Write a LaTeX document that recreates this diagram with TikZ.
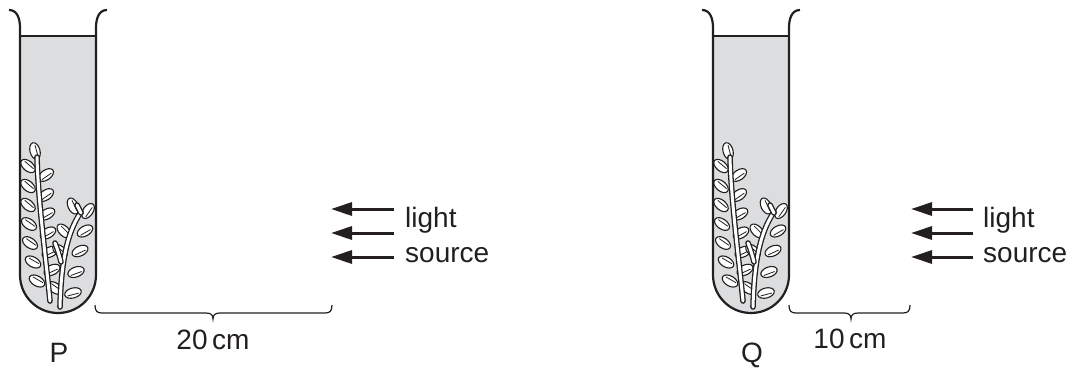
\documentclass[tikz,border=0pt]{standalone}
\usepackage{fontspec}
\setmainfont{Liberation Sans}
\usetikzlibrary{arrows.meta}
\definecolor{liquid}{RGB}{220,221,222}
\definecolor{ink}{RGB}{35,31,32}
\newcommand\plantleaf[3]{%
  \draw[leafstyle,rotate around={#3:(#1,#2)}] (#1,#2) ellipse [x radius=8.5,y radius=5];
  \draw[ribstyle,rotate around={#3:(#1,#2)}] (#1-6,#2+1.5) -- (#1+5.5,#2+1.5);}
\newcommand\tubeplant{%
  % leaves of main stem
  \plantleaf{35}{151}{105}
  \plantleaf{28}{166}{140}
  \plantleaf{46}{175}{35}
  \plantleaf{28}{186}{140}
  \plantleaf{46}{195}{35}
  \plantleaf{28}{205}{140}
  \plantleaf{47}{214}{30}
  \plantleaf{29}{224}{145}
  \plantleaf{48}{233}{30}
  \plantleaf{30}{243}{145}
  \plantleaf{50}{252}{25}
  \plantleaf{33}{262}{150}
  \plantleaf{52}{270}{25}
  \plantleaf{37}{281}{150}
  % leaves of second stem
  \plantleaf{73}{206}{115}
  \plantleaf{88}{211}{55}
  \plantleaf{85}{231}{30}
  \plantleaf{64}{231}{135}
  \plantleaf{80}{251}{25}
  \plantleaf{60}{251}{140}
  \plantleaf{76}{272}{20}
  \plantleaf{55}{288}{145}
  \plantleaf{73}{293}{15}
  % stems
  \draw[stemout] (50,301) .. controls (46,260) and (38,200) .. (37,157);
  \draw[stemin]  (50,301) .. controls (46,260) and (38,200) .. (37,157);
  \draw[stemout] (60,307) .. controls (61,270) and (65,235) .. (81,212);
  \draw[stemin]  (60,307) .. controls (61,270) and (65,235) .. (81,212);
  \draw[stemout] (81,213) -- (77,205);
  \draw[stemin]  (81,213) -- (77,205);
  \draw[stemout] (61,262) .. controls (59,254) and (57,248) .. (55,243);
  \draw[stemin]  (61,262) .. controls (59,254) and (57,248) .. (55,243);
}
\newcommand\testtube{%
  \fill[liquid] (20,36) -- (20,275) .. controls (20,296) and (37,313) .. (58,313)
     .. controls (79,313) and (96,296) .. (96,275) -- (96,36) -- cycle;
  \tubeplant
  \draw[tubeline] (9,10) .. controls (17,10) and (20,18) .. (20,28) -- (20,275)
     .. controls (20,296) and (37,313) .. (58,313)
     .. controls (79,313) and (96,296) .. (96,275) -- (96,28)
     .. controls (96,18) and (99,10) .. (107,10);
  \draw[tubeline] (20,36) -- (96,36);
}
\tikzset{
  leafstyle/.style={draw=ink,fill=white,line width=1.1pt},
  ribstyle/.style={draw=ink,line width=0.8pt},
  stemout/.style={draw=ink,line width=5.6pt,line cap=round},
  stemin/.style={draw=white,line width=3pt,line cap=round},
  tubeline/.style={draw=ink,line width=2.2pt,line join=round},
  bracestyle/.style={draw=ink,line width=1.2pt},
  lightarrow/.style={draw=ink,line width=3pt,-{Triangle[length=21pt,width=13pt]}},
  lbl/.style={inner sep=0pt,text=ink,font=\fontsize{28}{34}\selectfont},
}
\begin{document}
\begin{tikzpicture}[x=1pt,y=-1pt]
\useasboundingbox (0,0) rectangle (1075,372);
% ---------- tube P ----------
\begin{scope}
  \testtube
\end{scope}
\node[lbl,anchor=base] (labP) at (59,362) {P};
\draw[bracestyle] (95,305) .. controls (95,311) and (97,313) .. (102,313) -- (206,313)
   .. controls (211,313) and (213,315) .. (213,319)
   .. controls (213,315) and (215,313) .. (220,313) -- (325,313)
   .. controls (330,313) and (332,311) .. (332,305);
\node[lbl,anchor=base] (distP) at (213,349) {20\,cm};
\coordinate (aP1s) at (394,209); \coordinate (aP1e) at (331,209);
\coordinate (aP2s) at (394,233); \coordinate (aP2e) at (331,233);
\coordinate (aP3s) at (394,257); \coordinate (aP3e) at (331,257);
\draw[lightarrow] (aP1s) -- (aP1e);
\draw[lightarrow] (aP2s) -- (aP2e);
\draw[lightarrow] (aP3s) -- (aP3e);
\node[lbl,anchor=base west] (lightP) at (405,227) {light};
\node[lbl,anchor=base west] (sourceP) at (405,262) {source};
% ---------- tube Q ----------
\begin{scope}[xshift=693pt]
  \testtube
\end{scope}
\node[lbl,anchor=base] (labQ) at (752,362) {Q};
\draw[bracestyle] (789,305) .. controls (789,311) and (791,313) .. (796,313) -- (844,313)
   .. controls (849,313) and (851,315) .. (851,319)
   .. controls (851,315) and (853,313) .. (858,313) -- (903,313)
   .. controls (908,313) and (910,311) .. (910,305);
\node[lbl,anchor=base] (distQ) at (850,348) {10\,cm};
\coordinate (aQ1s) at (973,209); \coordinate (aQ1e) at (911,209);
\coordinate (aQ2s) at (973,233); \coordinate (aQ2e) at (911,233);
\coordinate (aQ3s) at (973,257); \coordinate (aQ3e) at (911,257);
\draw[lightarrow] (aQ1s) -- (aQ1e);
\draw[lightarrow] (aQ2s) -- (aQ2e);
\draw[lightarrow] (aQ3s) -- (aQ3e);
\node[lbl,anchor=base west] (lightQ) at (983,227) {light};
\node[lbl,anchor=base west] (sourceQ) at (983,262) {source};
\end{tikzpicture}
\end{document}
